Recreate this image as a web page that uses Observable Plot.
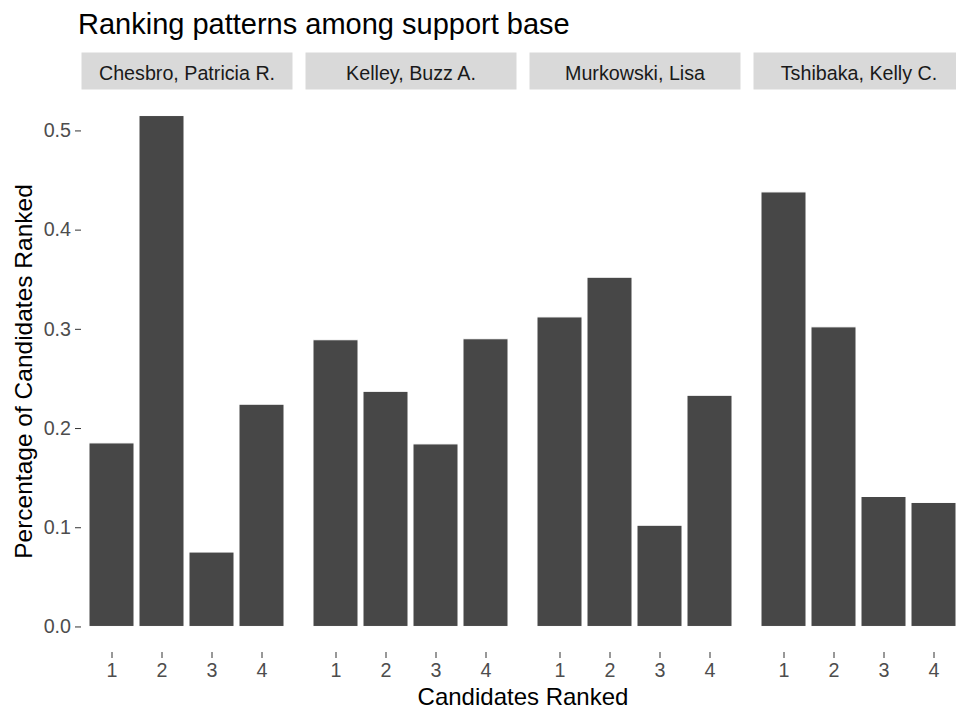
<!DOCTYPE html>
<html>
<head>
<meta charset="utf-8">
<script src="https://cdn.jsdelivr.net/npm/d3@7"></script>
<script src="https://cdn.jsdelivr.net/npm/@observablehq/plot@0.6"></script>
<style>
  html, body { margin: 0; padding: 0; background: white; overflow: hidden; width: 956px; height: 709px; }
  #title { font-family: "Liberation Sans", Arial, Helvetica, sans-serif; font-size: 29px; line-height: 1; color: #000; padding-top: 10px; height: 35px; padding-left: 78px; white-space: nowrap; }
  #chart svg { max-width: none !important; display: block; }
</style>
</head>
<body>
<div id="title">Ranking patterns among support base</div>
<div id="chart"></div>
<script>
// ---- data ----
const candidates = ["Chesbro, Patricia R.", "Kelley, Buzz A.", "Murkowski, Lisa", "Tshibaka, Kelly C."];
const ranks = ["1", "2", "3", "4"];
const chesbro   = [0.185, 0.515, 0.075, 0.224];
const kelley    = [0.289, 0.237, 0.184, 0.290];
const murkowski = [0.312, 0.352, 0.102, 0.233];
const tshibaka  = [0.438, 0.302, 0.131, 0.125];
const yTicks = [0, 0.1, 0.2, 0.3, 0.4, 0.5];
const xLabel = "Candidates Ranked";
const yLabel = "Percentage of Candidates Ranked";

const series = [chesbro, kelley, murkowski, tshibaka];
const data = candidates.flatMap((c, i) => ranks.map((r, j) => ({candidate: c, rank: r, value: series[i][j]})));

const ymax = d3.max(data, d => d.value);
const pad = 0.05 * ymax;

const FONT = "Liberation Sans, Arial, Helvetica, sans-serif";
const height = 664, marginTop = 45, marginBottom = 57;
const frameH = height - marginTop - marginBottom;

const chart = Plot.plot({
  width: 966,
  height,
  marginLeft: 79,
  marginRight: 1,
  marginTop,
  marginBottom,
  style: {fontFamily: FONT, background: "white", overflow: "visible"},
  fx: {domain: candidates, paddingInner: 0.06, paddingOuter: 0, axis: null, label: null},
  x: {domain: ranks, paddingInner: 0.1, paddingOuter: 0.15, label: null},
  y: {domain: [-pad, ymax + pad], label: null},
  marks: [
    // facet strips
    Plot.frame({fill: "#d9d9d9", stroke: "none", insetTop: -38, insetBottom: frameH + 1}),
    Plot.text(candidates, {fx: d => d, text: d => d, frameAnchor: "top", lineAnchor: "middle", dy: -16.5, fill: "#1a1a1a", fontSize: 19.7}),
    Plot.barY(data, {fx: "candidate", x: "rank", y: "value", fill: "#474747", stroke: "white", strokeWidth: 1}),
    Plot.axisY({ticks: yTicks, tickFormat: d3.format(".1f"), tickSize: 6, tickPadding: 4.5, fontSize: 19.7, fill: "#4d4d4d", stroke: "#333333", label: null}),
    Plot.axisY({ticks: [], tickSize: 0, label: yLabel, labelAnchor: "center", labelArrow: "none", labelOffset: 67, fontSize: 24.5, fill: "#000"}),
    Plot.axisX({tickSize: 6, tickPadding: 4.5, fontSize: 19.7, fill: "#4d4d4d", stroke: "#333333", label: null}),
    Plot.axisX({ticks: [], tickSize: 0, label: xLabel, labelAnchor: "center", labelArrow: "none", labelOffset: 52, fontSize: 24, fill: "#000"})
  ]
});
document.getElementById("chart").appendChild(chart);
</script>
</body>
</html>
